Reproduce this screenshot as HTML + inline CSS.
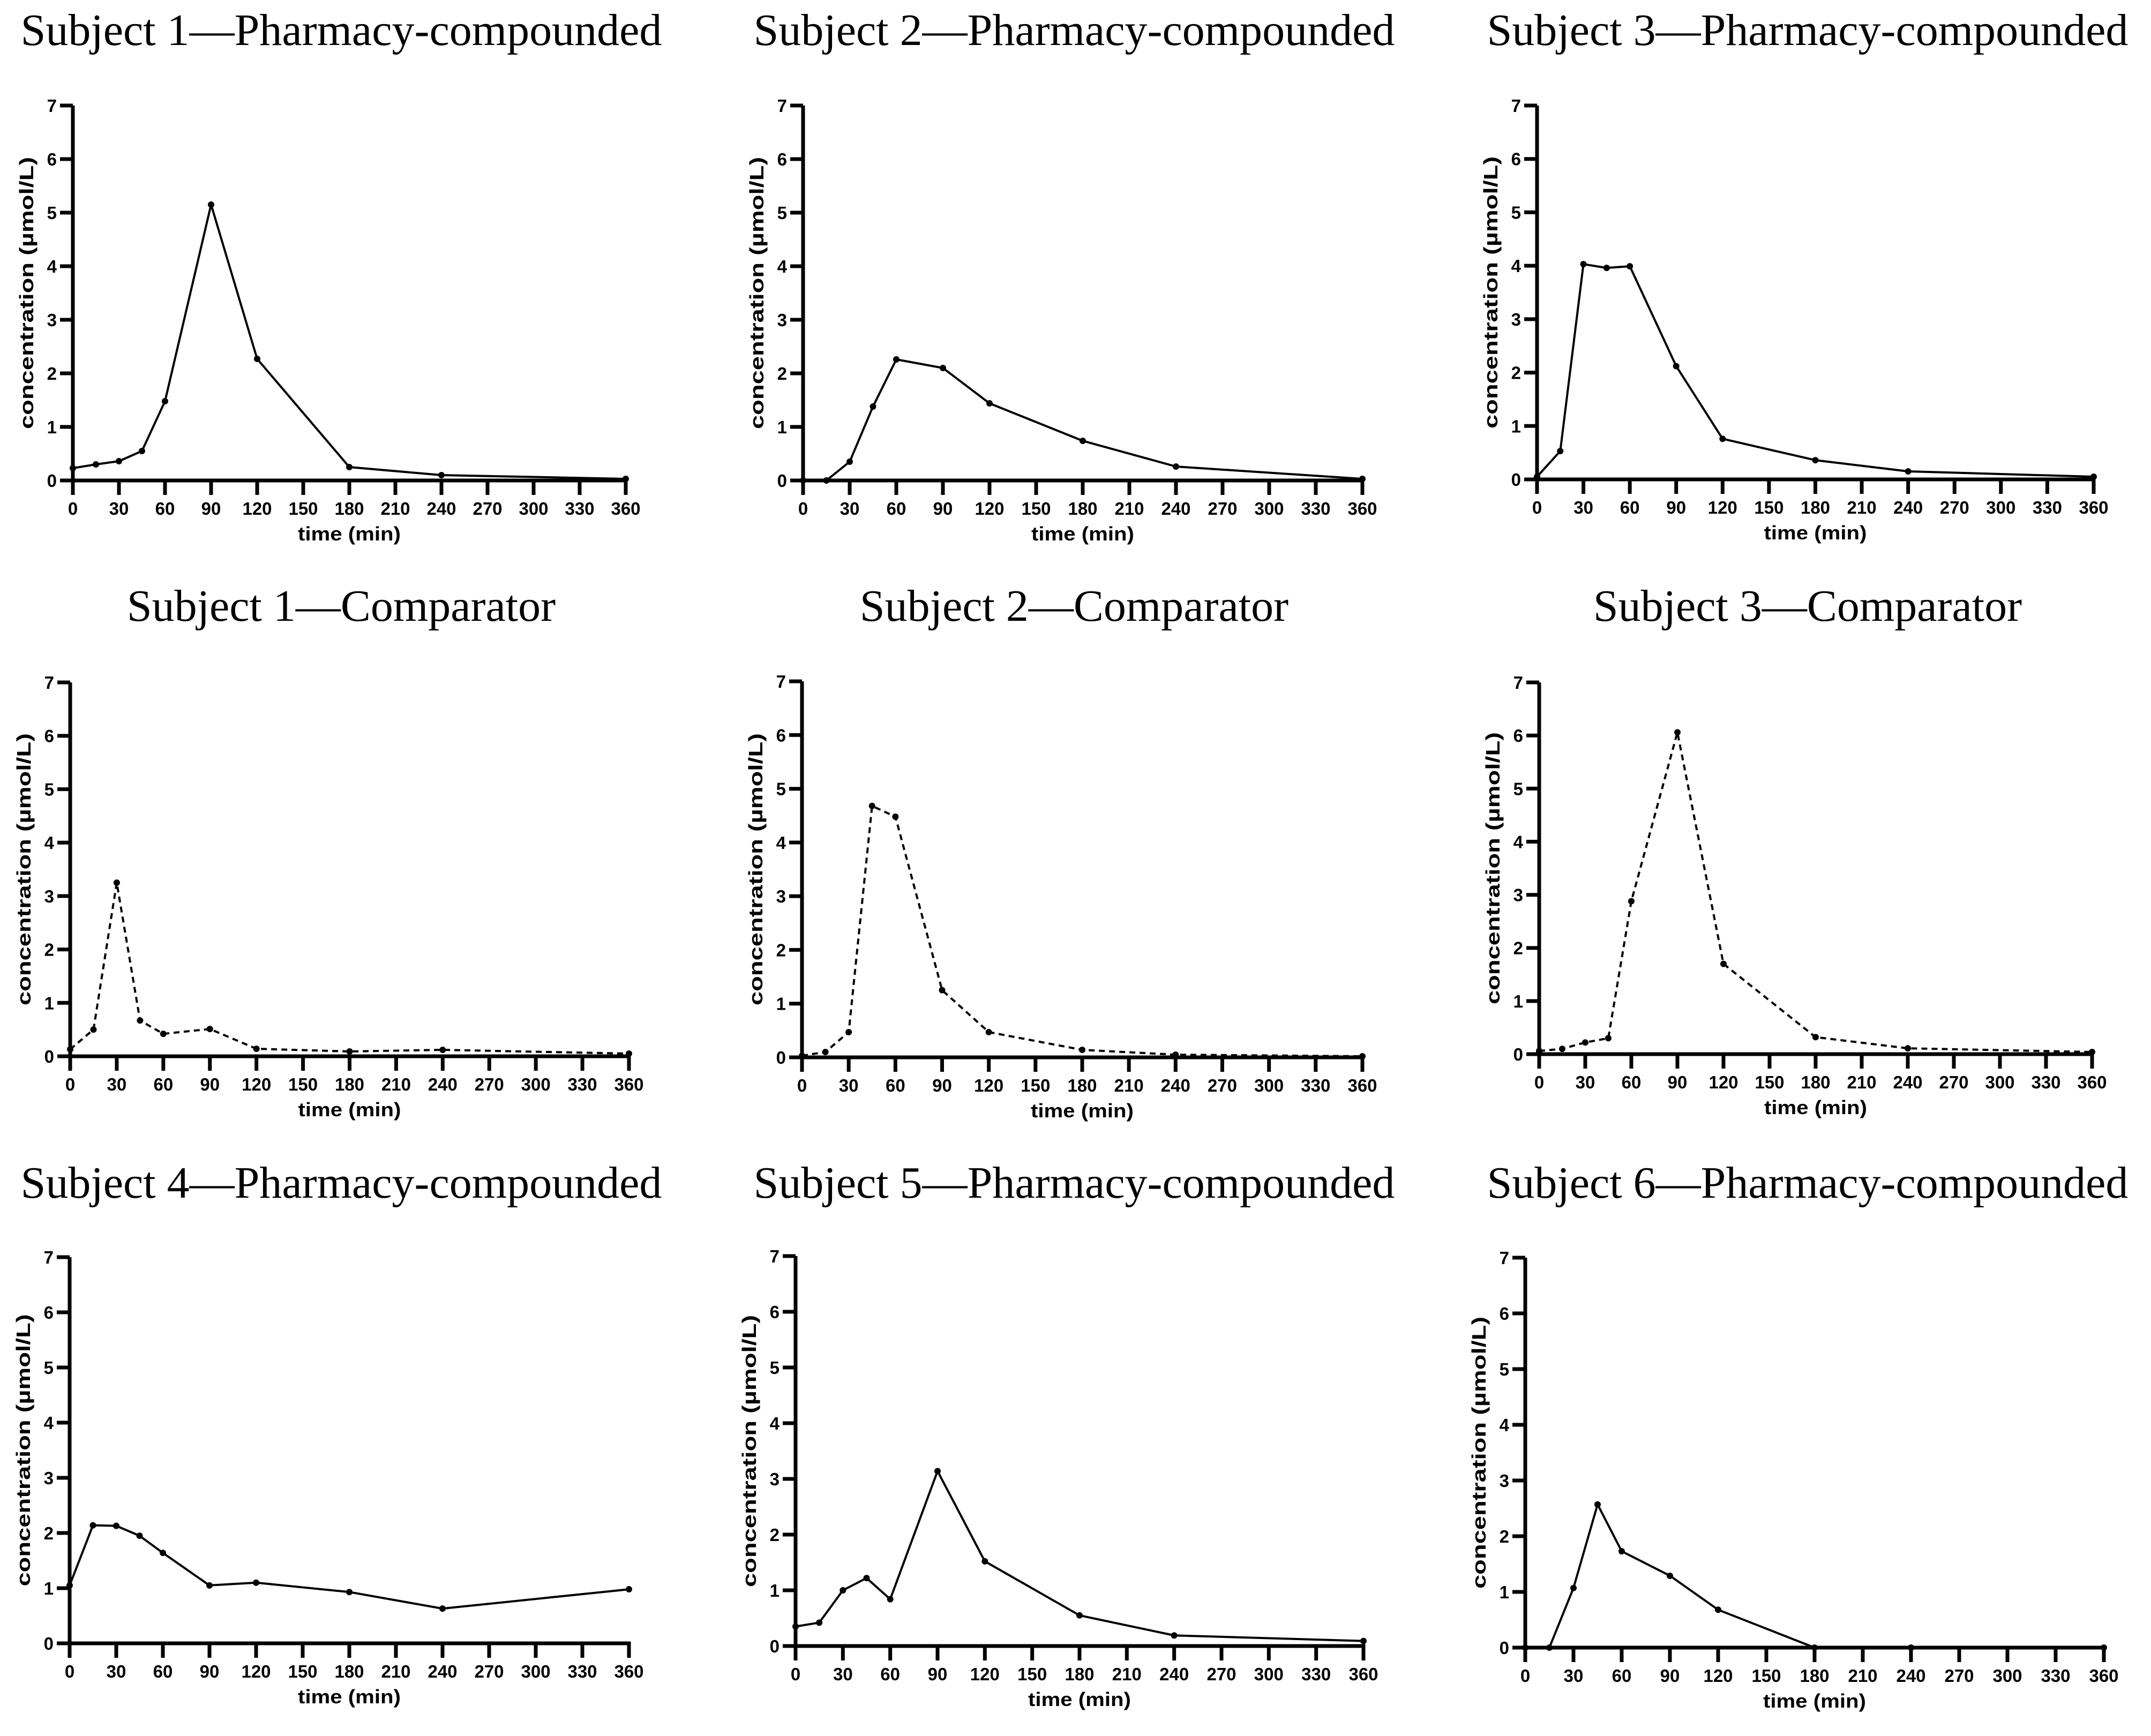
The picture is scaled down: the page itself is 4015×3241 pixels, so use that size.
<!DOCTYPE html>
<html><head><meta charset="utf-8"><style>
html,body{margin:0;padding:0;background:#fff;}
svg{display:block;}
.title{font-family:"Liberation Serif",serif;font-size:84px;fill:#000;}
.tick{font-family:"Liberation Sans",sans-serif;font-weight:bold;font-size:33px;fill:#000;}
.axt{font-family:"Liberation Sans",sans-serif;font-weight:bold;font-size:36px;fill:#000;}
</style></head><body>
<svg id="fig" width="4015" height="3241" viewBox="0 0 4015 3241" xmlns="http://www.w3.org/2000/svg"></svg>
<script>
const times = [0,15,30,45,60,90,120,180,240,360];
const titles = ["Subject 1—Pharmacy-compounded","Subject 2—Pharmacy-compounded","Subject 3—Pharmacy-compounded",
"Subject 1—Comparator","Subject 2—Comparator","Subject 3—Comparator",
"Subject 4—Pharmacy-compounded","Subject 5—Pharmacy-compounded","Subject 6—Pharmacy-compounded"];
const s1pc = [0.23,0.30,0.36,0.55,1.48,5.15,2.27,0.25,0.10,0.03];
const s2pc = [0,0,0.35,1.38,2.26,2.10,1.44,0.74,0.26,0.03];
const s3pc = [0.05,0.53,4.03,3.96,3.99,2.12,0.76,0.36,0.15,0.05];
const s1cmp = [0.13,0.50,3.25,0.67,0.42,0.51,0.14,0.09,0.12,0.05];
const s2cmp = [0.03,0.10,0.47,4.68,4.48,1.25,0.47,0.14,0.05,0.02];
const s3cmp = [0.06,0.10,0.22,0.30,2.88,6.06,1.70,0.32,0.11,0.04];
const s4pc = [1.05,2.14,2.13,1.95,1.64,1.05,1.10,0.93,0.63,0.98];
const s5pc = [0.35,0.42,1.00,1.22,0.84,3.14,1.52,0.55,0.19,0.09];
const s6pc = [0,0,1.07,2.57,1.73,1.29,0.68,0,0,0];
const xTicks = [0,30,60,90,120,150,180,210,240,270,300,330,360];
const yTicks = [0,1,2,3,4,5,6,7];
const seriesList = [s1pc,s2pc,s3pc,s1cmp,s2cmp,s3cmp,s4pc,s5pc,s6pc];
const dashed = [false,false,false,true,true,true,false,false,false];

const layout = [
 {x:136,y:897,w:1032,h:700,cx:637,ty:84},
 {x:1499,y:897,w:1044,h:700,cx:2005,ty:84},
 {x:2869,y:895,w:1039,h:698,cx:3374,ty:84},
 {x:131,y:1972,w:1043,h:698,cx:637,ty:1159},
 {x:1497,y:1974,w:1046,h:702,cx:2005,ty:1159},
 {x:2873,y:1968,w:1032,h:694,cx:3374,ty:1159},
 {x:130,y:3068,w:1044,h:721,cx:637,ty:2236},
 {x:1485,y:3073,w:1060,h:728,cx:2005,ty:2236},
 {x:2847,y:3076,w:1080,h:728,cx:3374,ty:2236}
];
const NS="http://www.w3.org/2000/svg";
const svg=document.getElementById('fig');
function mk(tag,attrs,parent){const e=document.createElementNS(NS,tag);for(const k in attrs)e.setAttribute(k,attrs[k]);parent.appendChild(e);return e;}

layout.forEach((L,i)=>{
  const g=mk('g',{},svg);
  
  
  const sx=t=>L.x+t/360*L.w;
  const sy=v=>L.y-v/7*L.h;
  const t=mk('text',{x:L.cx,y:L.ty,'text-anchor':'middle',class:'title'},g);
  
  
  t.textContent=titles[i];
  const ax=mk('g',{stroke:'#000','stroke-width':7,fill:'none'},g);
  
  
  mk('line',{x1:L.x,y1:sy(7),x2:L.x,y2:L.y+3.5},ax);
  mk('line',{x1:L.x-24,y1:L.y,x2:sx(360)+3.5,y2:L.y},ax);
  yTicks.forEach(v=>{
    mk('line',{x1:L.x-24,y1:sy(v),x2:L.x,y2:sy(v)},ax);
    const tl=mk('text',{x:L.x-30,y:sy(v)+12,'text-anchor':'end',class:'tick'},g);
    
    
    tl.textContent=v;
  });
  xTicks.forEach(v=>{
    mk('line',{x1:sx(v),y1:L.y,x2:sx(v),y2:L.y+27},ax);
    const tl=mk('text',{x:sx(v),y:L.y+64,'text-anchor':'middle',class:'tick'},g);
    
    
    tl.textContent=v;
  });
  const xt=mk('text',{x:L.x+L.w/2,y:L.y+112,'text-anchor':'middle',class:'axt',textLength:192,lengthAdjust:'spacingAndGlyphs'},g);
  
  
  xt.textContent='time (min)';
  const ymid=L.y-L.h/2;
  const yx=L.x-74;
  const yt=mk('text',{x:yx,y:ymid,'text-anchor':'middle',class:'axt',textLength:508,lengthAdjust:'spacingAndGlyphs',transform:'rotate(-90 '+yx+' '+ymid+')'},g);
  
  
  yt.textContent='concentration (µmol/L)';
  const data=seriesList[i];
  const pts=times.map((tm,k)=>sx(tm).toFixed(1)+','+sy(data[k]).toFixed(1)).join(' ');
  const pl=mk('polyline',{points:pts,fill:'none',stroke:'#000','stroke-width':4,'stroke-linejoin':'round'},g);
  if(dashed[i]) pl.setAttribute('stroke-dasharray','11 8');
  
  
  times.forEach((tm,k)=>{
    const c=mk('circle',{cx:sx(tm),cy:sy(data[k]),r:6,fill:'#000'},g);
    
    
  });
});
</script>
</body></html>
